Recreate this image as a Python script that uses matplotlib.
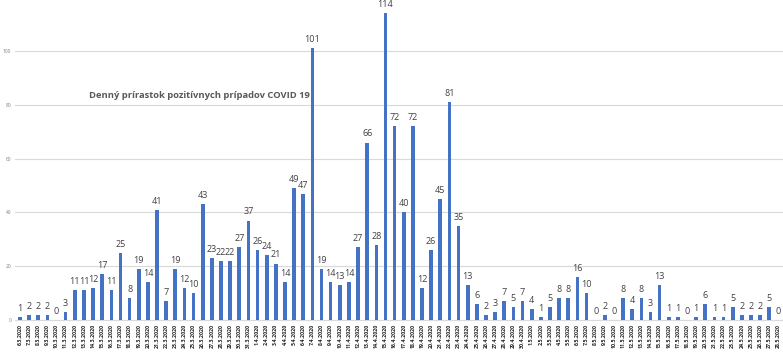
import matplotlib
matplotlib.use("Agg")
import matplotlib.pyplot as plt
import numpy as np

march = [1, 2, 2, 2, 0, 3, 11, 11, 12, 17, 11, 25, 8, 19, 14, 41, 7, 19, 12, 10, 43, 23, 22, 22, 27, 37]
april = [26, 24, 21, 14, 49, 47, 101, 19, 14, 13, 14, 27, 66, 28, 114, 72, 40, 72, 12, 26, 45, 81, 35, 13, 6, 2, 3, 7, 5, 7]
may = [4, 1, 5, 8, 8, 16, 10, 0, 2, 0, 8, 4, 8, 3, 13, 1, 1, 0, 1, 6, 1, 1, 5, 2, 2, 2, 5, 0]

values = march + april + may
dates = ([f"{d}.3.2020" for d in range(6, 32)] +
         [f"{d}.4.2020" for d in range(1, 31)] +
         [f"{d}.5.2020" for d in range(1, 29)])
title = "Denný prírastok pozitívnych prípadov COVID 19"

plt.rcParams['font.family'] = ['Open Sans', 'DejaVu Sans']

fig = plt.figure(figsize=(7.83, 3.54), dpi=100)
ax = fig.add_axes([15.4/783, 34/354, 1 - 15.4/783, 1 - 34/354])

x = np.arange(len(values))
ax.bar(x, values, width=0.4, color="#4472C4", zorder=3)
for xi, v in zip(x, values):
    ax.text(xi, v + 1.5, str(v), ha="center", va="bottom", fontsize=6.5,
            color="#404040", zorder=4)

ax.set_xlim(-0.5, len(values) - 0.5)
ax.set_ylim(0, 119)
ax.set_yticks([0, 20, 40, 60, 80, 100])
ax.yaxis.grid(True, color="#d9d9d9", linewidth=0.8, zorder=0)
ax.tick_params(axis="y", labelsize=3.5, labelcolor="#7f7f7f", length=0, pad=3)
ax.set_xticks(x)
ax.set_xticklabels(dates, rotation=90, fontsize=3.8, color="#262626", fontweight="bold")
ax.tick_params(axis="x", length=0, pad=3)
for s in ax.spines.values():
    s.set_visible(False)
ax.spines["bottom"].set_visible(True)
ax.spines["bottom"].set_color("#d9d9d9")

fig.text(89/783, 1 - 95/354, title, ha="left", va="center", fontsize=6.75,
         fontweight="bold", color="#595959")

fig.savefig("out.png", dpi=100)
